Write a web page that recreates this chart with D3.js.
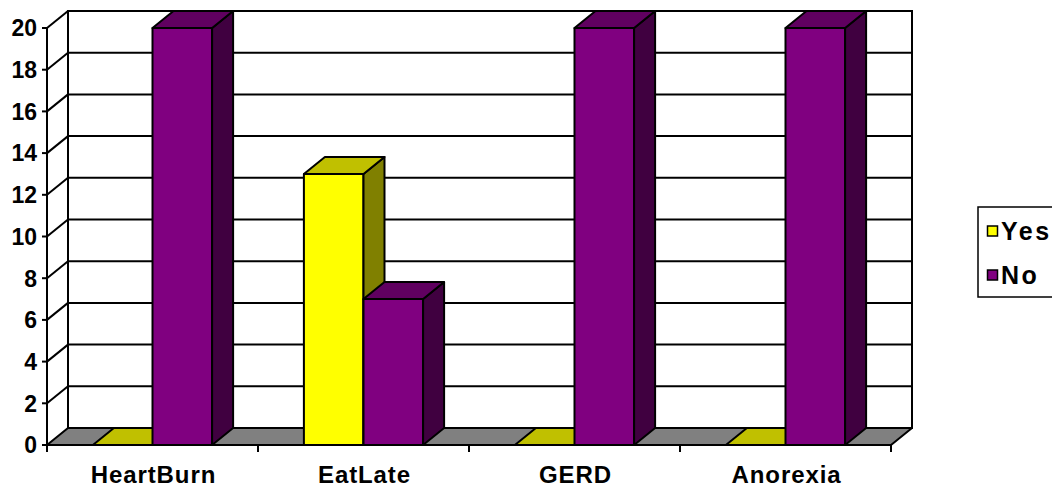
<!DOCTYPE html>
<html>
<head>
<meta charset="utf-8">
<script src="https://cdn.jsdelivr.net/npm/d3@7"></script>
<style>
  html, body { margin: 0; padding: 0; background: #fff; }
  svg { display: block; }
  text { font-family: "Liberation Sans", Arial, sans-serif; font-weight: bold; fill: #000; }
</style>
</head>
<body>
<svg id="chart" width="1052" height="487"></svg>
<script>
// Survey answers per condition
const categories = ["HeartBurn", "EatLate", "GERD", "Anorexia"];
const seriesNames = ["Yes", "No"];
const yesValues = [0, 13, 0, 0];
const noValues = [20, 7, 20, 20];
const yTicks = [0, 2, 4, 6, 8, 10, 12, 14, 16, 18, 20];

// Face colours: front, top, side
const palette = {
  Yes: { front: "#ffff00", top: "#c0c000", side: "#808000" },
  No:  { front: "#800080", top: "#600060", side: "#400040" }
};

const svg = d3.select("#chart");

// Plot frame and 3D depth offset
const x0 = 47, x1 = 891, yBase = 445, yTop = 28;
const dx = 21, dy = -17;

const x = d3.scaleBand().domain(categories).range([x0, x1]);
const xs = d3.scaleBand().domain(seriesNames).range([0, x.bandwidth()]).paddingOuter(0.77);
const y = d3.scaleLinear().domain([0, 20]).range([yBase, yTop]);

const lineW = 2;

// Back wall
svg.append("rect")
  .attr("x", x0 + dx).attr("y", y(20) + dy)
  .attr("width", x1 - x0).attr("height", y(0) - y(20))
  .attr("fill", "#fff").attr("stroke", "#000").attr("stroke-width", lineW);

// Gridlines on back wall and side wall
const grid = svg.append("g").attr("stroke", "#000").attr("stroke-width", lineW).attr("fill", "none");
yTicks.filter(v => v > 0).forEach(v => {
  grid.append("line")
    .attr("x1", x0 + dx).attr("x2", x1 + dx)
    .attr("y1", y(v) + dy).attr("y2", y(v) + dy);
  grid.append("line")
    .attr("x1", x0).attr("y1", y(v))
    .attr("x2", x0 + dx).attr("y2", y(v) + dy);
});

// Floor
svg.append("path")
  .attr("d", `M${x0},${y(0)} L${x1},${y(0)} L${x1 + dx},${y(0) + dy} L${x0 + dx},${y(0) + dy} Z`)
  .attr("fill", "#808080").attr("stroke", "#000").attr("stroke-width", lineW)
  .attr("stroke-linejoin", "round");

// Bars, drawn left to right so later fronts cover earlier side faces
const rows = [];
categories.forEach((c, i) => {
  rows.push({ cat: c, s: "Yes", v: yesValues[i] });
  rows.push({ cat: c, s: "No", v: noValues[i] });
});

const bars = svg.append("g").attr("stroke", "#000").attr("stroke-width", lineW).attr("stroke-linejoin", "round");
rows.forEach(d => {
  const bx0 = x(d.cat) + xs(d.s);
  const bx1 = bx0 + xs.bandwidth();
  const yt = y(d.v), yb = y(0);
  const col = palette[d.s];
  if (d.v > 0) {
    bars.append("rect")
      .attr("x", bx0).attr("y", yt).attr("width", bx1 - bx0).attr("height", yb - yt)
      .attr("fill", col.front);
    bars.append("path")
      .attr("d", `M${bx1},${yt} L${bx1 + dx},${yt + dy} L${bx1 + dx},${yb + dy} L${bx1},${yb} Z`)
      .attr("fill", col.side);
  }
  bars.append("path")
    .attr("d", `M${bx0},${yt} L${bx1},${yt} L${bx1 + dx},${yt + dy} L${bx0 + dx},${yt + dy} Z`)
    .attr("fill", col.top);
});

// Value axis
const axisG = svg.append("g").attr("stroke", "#000").attr("stroke-width", lineW);
axisG.append("line").attr("x1", x0).attr("x2", x0).attr("y1", y(20)).attr("y2", yBase + 7);
yTicks.forEach(v => {
  axisG.append("line").attr("x1", x0 - 5).attr("x2", x0).attr("y1", y(v)).attr("y2", y(v));
});
svg.append("g").selectAll("text").data(yTicks).join("text")
  .attr("x", 37).attr("y", v => y(v) + 8.3)
  .attr("text-anchor", "end")
  .style("font-size", "23px")
  .text(v => v);

// Category axis
axisG.append("line").attr("x1", x0).attr("x2", x1).attr("y1", yBase).attr("y2", yBase);
const catEdges = categories.map(c => x(c)).concat([x1]);
catEdges.forEach(e => {
  axisG.append("line").attr("x1", e).attr("x2", e).attr("y1", yBase).attr("y2", yBase + 7);
});
svg.append("g").selectAll("text").data(categories).join("text")
  .attr("x", c => x(c) + x.bandwidth() / 2 + 1)
  .attr("y", 482.5)
  .attr("text-anchor", "middle")
  .style("font-size", "24px")
  .style("letter-spacing", "0.9px")
  .text(c => c);

// Legend
const lg = svg.append("g");
lg.append("rect")
  .attr("x", 978).attr("y", 207).attr("width", 100).attr("height", 90)
  .attr("fill", "#fff").attr("stroke", "#000").attr("stroke-width", 1.5);
seriesNames.forEach((s, i) => {
  const cy = 231 + i * 44;
  lg.append("rect")
    .attr("x", 987.5).attr("y", cy - 5).attr("width", 10).attr("height", 10)
    .attr("fill", palette[s].front).attr("stroke", "#000").attr("stroke-width", 1.5);
  lg.append("text")
    .attr("x", 1001).attr("y", cy + 8.5)
    .style("font-size", "25px")
    .style("letter-spacing", "2.5px")
    .text(s);
});
</script>
</body>
</html>
